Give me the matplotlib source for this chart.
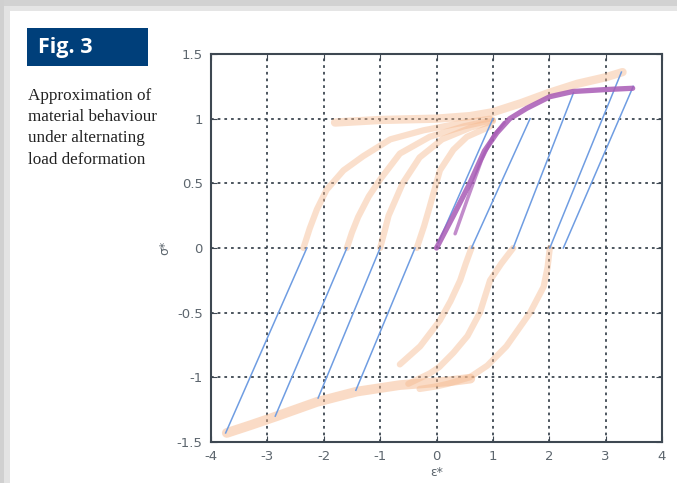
import matplotlib.pyplot as plt
from matplotlib.patches import Rectangle

plt.rcParams['axes.unicode_minus'] = False

# ---- data (normalised strain / stress) ----
# elastic unloading lines, upper right: (x0, y0) -> (x1, y1)
blue_up = [
    [(0.03, 0.04), (1.00, 1.00)],
    [(0.62, 0.00), (1.66, 1.00)],
    [(1.36, 0.00), (2.43, 1.20)],
    [(2.01, 0.00), (3.28, 1.36)],
    [(2.25, 0.00), (3.49, 1.25)],
]
# elastic unloading lines, lower left
blue_down = [
    [(-2.30, 0.00), (-3.74, -1.43)],
    [(-1.59, 0.00), (-2.86, -1.30)],
    [(-1.00, 0.00), (-2.10, -1.16)],
    [(-0.38, 0.00), (-1.43, -1.10)],
]

# upper envelope of the cyclic curves
env_up_x = [-1.8, -1.0, 0.0, 0.6, 1.0, 1.5, 2.0, 2.5, 3.0, 3.3]
env_up_y = [0.97, 0.99, 1.00, 1.02, 1.05, 1.12, 1.20, 1.27, 1.32, 1.36]
# lower envelope
env_lo_x = [-3.72, -3.30, -2.83, -2.12, -1.41, -0.65, 0.24, 0.60]
env_lo_y = [-1.43, -1.37, -1.30, -1.19, -1.11, -1.06, -1.03, -1.01]

# reloading branches (from sigma = 0 on the left up to the upper envelope)
up_branches = [
    ([-2.36, -2.25, -2.12, -1.95, -1.65, -1.30, -0.82, -0.23, 0.36, 0.95],
     [0.00, 0.15, 0.30, 0.45, 0.60, 0.71, 0.84, 0.91, 0.96, 1.00]),
    ([-1.59, -1.50, -1.39, -1.20, -1.00, -0.65, -0.12, 0.48, 1.00],
     [0.00, 0.12, 0.24, 0.40, 0.53, 0.73, 0.86, 0.94, 0.99]),
    ([-1.00, -0.92, -0.85, -0.60, -0.30, 0.10, 0.60, 1.00],
     [0.00, 0.13, 0.25, 0.50, 0.70, 0.84, 0.93, 0.98]),
    ([-0.35, -0.22, -0.12, 0.06, 0.30, 0.54, 0.95],
     [0.00, 0.17, 0.32, 0.60, 0.76, 0.86, 0.94]),
]
# reverse loading branches (from sigma = 0 on the right down to the lower envelope)
down_branches = [
    ([2.01, 1.97, 1.90, 1.66, 1.24, 0.90, 0.59, 0.20, 0.00, -0.30],
     [0.00, -0.15, -0.30, -0.50, -0.76, -0.91, -1.00, -1.05, -1.07, -1.09]),
    ([1.36, 1.15, 0.95, 0.77, 0.55, 0.30, 0.05, -0.12, -0.50],
     [0.00, -0.12, -0.25, -0.50, -0.68, -0.81, -0.92, -0.97, -1.05]),
    ([0.62, 0.52, 0.42, 0.25, 0.06, -0.29, -0.65],
     [0.00, -0.12, -0.25, -0.41, -0.56, -0.76, -0.90]),
]

# approximated material curve (purple)
purple_x = [0.00, 0.30, 0.59, 0.85, 1.07, 1.30, 1.60, 2.01, 2.42, 3.00, 3.48]
purple_y = [0.00, 0.25, 0.50, 0.75, 0.89, 1.00, 1.08, 1.17, 1.21, 1.225, 1.235]
purple2_x = [0.33, 0.55, 0.80, 1.00, 1.20]
purple2_y = [0.11, 0.38, 0.68, 0.86, 0.97]

x_ticks = [-4, -3, -2, -1, 0, 1, 2, 3, 4]
y_ticks = [-1.5, -1, -0.5, 0, 0.5, 1, 1.5]
y_tick_labels = ['-1.5', '-1', '-0.5', '0', '0.5', '1', '1.5']

caption = ['Approximation of', 'material behaviour',
           'under alternating', 'load deformation']

W, H = 677, 483
fig = plt.figure(figsize=(W / 100, H / 100), dpi=100)
fig.patch.set_facecolor('white')

# grey page border
def px_rect(x, y, w, h, color):
    fig.patches.append(Rectangle((x / W, 1 - (y + h) / H), w / W, h / H,
                                 transform=fig.transFigure, color=color,
                                 zorder=0, lw=0))

px_rect(0, 0, W, 6, '#d2d2d2')
px_rect(0, 6, W, 5, '#e5e5e5')
px_rect(0, 0, 4, H, '#d0d0d0')
px_rect(4, 6, 6, H, '#e3e3e3')

# "Fig. 3" label box
px_rect(27, 28, 121, 38, '#003f7a')
fig.text(38 / W, 1 - 53 / H, 'Fig. 3', color='white', fontsize=15.5,
         fontweight='bold', family='Open Sans', va='baseline')

for i, line in enumerate(caption):
    fig.text(28 / W, 1 - (99.5 + 21.5 * i) / H, line, fontsize=12.3,
             family='Liberation Serif', color='#222222', va='baseline')

ax = fig.add_axes([211 / W, 1 - 442 / H, 451 / W, 388 / H])

orange = '#f6b98e'
for bx, by in up_branches:
    ax.plot(bx, by, color=orange, lw=4.5, alpha=0.45, solid_capstyle='round')
for bx, by in down_branches:
    ax.plot(bx, by, color=orange, lw=4.5, alpha=0.45, solid_capstyle='round')
ax.plot(env_up_x, env_up_y, color=orange, lw=6, alpha=0.45, solid_capstyle='round')
ax.plot(env_lo_x, env_lo_y, color=orange, lw=7, alpha=0.5, solid_capstyle='round')

for seg in blue_up + blue_down:
    ax.plot([seg[0][0], seg[1][0]], [seg[0][1], seg[1][1]],
            color='#6f9de2', lw=1.1)

ax.plot(purple_x, purple_y, color='#a85bb5', lw=3.8, alpha=0.85,
        solid_capstyle='round')
ax.plot(purple2_x, purple2_y, color='#a85bb5', lw=2.5, alpha=0.7,
        solid_capstyle='round')

ax.set_xlim(-4, 4)
ax.set_ylim(-1.5, 1.5)
ax.set_xticks(x_ticks)
ax.set_yticks(y_ticks)
ax.set_yticklabels(y_tick_labels)
ax.grid(True, color='#3e4852', ls=(0, (1.5, 2.2)), lw=1.3)
ax.tick_params(direction='in', length=4, color='#3e4852', labelsize=9.5,
               labelcolor='#5d666e', pad=6, top=True, right=True)
for sp in ax.spines.values():
    sp.set_color('#3e4852')
    sp.set_linewidth(1.5)
ax.set_xlabel('ε*', fontsize=9, color='#5d666e', labelpad=2)
ax.set_ylabel('σ*', fontsize=9, color='#5d666e', labelpad=4)

fig.savefig('out.png', dpi=100)
